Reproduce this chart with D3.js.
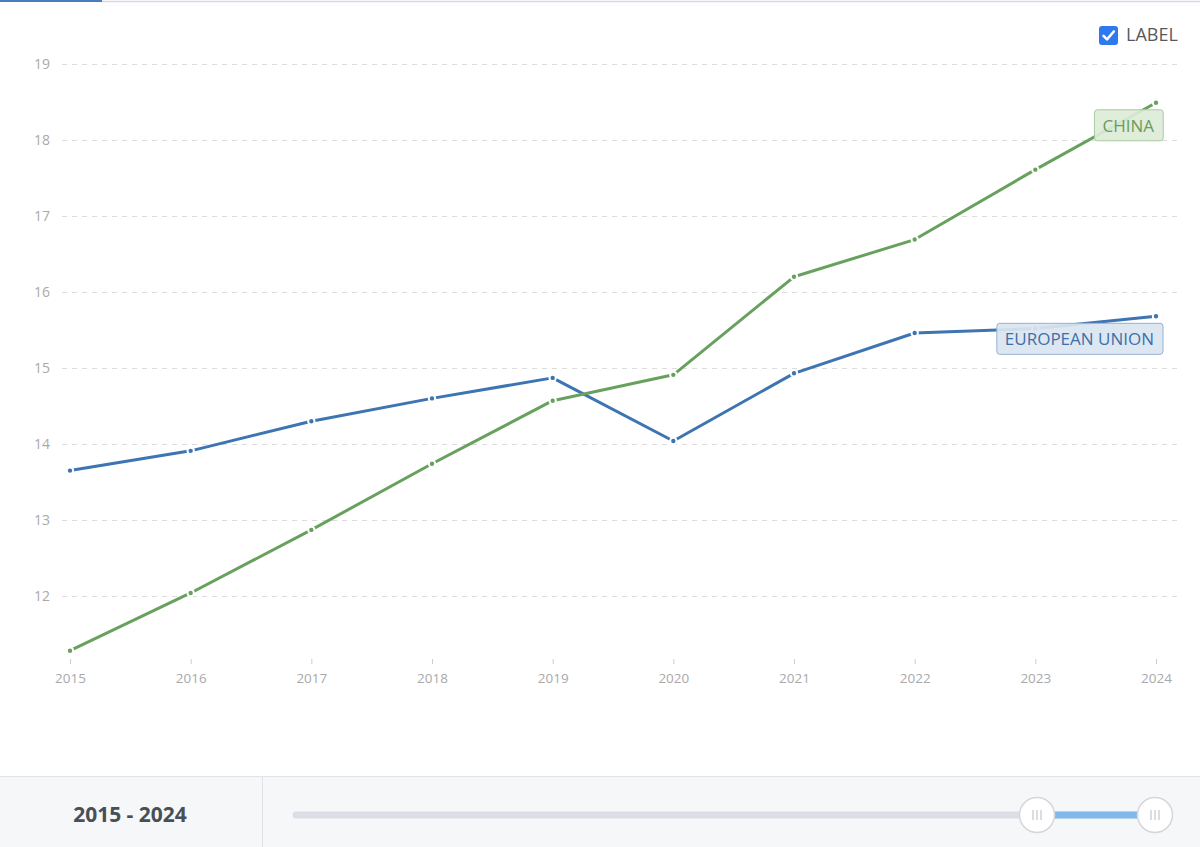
<!DOCTYPE html>
<html>
<head>
<meta charset="utf-8">
<script src="https://cdn.jsdelivr.net/npm/d3@7"></script>
<style>
  html, body { margin: 0; padding: 0; background: #fff; }
  body { width: 1200px; height: 847px; overflow: hidden; font-family: 'Open Sans', sans-serif; }
</style>
</head>
<body>
<svg id="chart" width="1200" height="847"></svg>
<script>
// values
const years = [2015, 2016, 2017, 2018, 2019, 2020, 2021, 2022, 2023, 2024]
const euValues = [13.65, 13.91, 14.30, 14.60, 14.87, 14.04, 14.93, 15.46, 15.52, 15.68]
const chinaValues = [11.28, 12.04, 12.87, 13.74, 14.57, 14.91, 16.20, 16.69, 17.61, 18.49]
const yTicks = [12, 13, 14, 15, 16, 17, 18, 19]
const seriesNames = ['EUROPEAN UNION', 'CHINA']
const rangeText = '2015 - 2024'

const width = 1200
const height = 847

const series = [
  { name: seriesNames[0], values: euValues, color: '#3d74b2', fill: '#dae5f1', stroke: '#93b2d4', text: '#3e70a8' },
  { name: seriesNames[1], values: chinaValues, color: '#68a15e', fill: '#dcebd7', stroke: '#a9cc9f', text: '#6a9c5f' }
]

const svg = d3.select('#chart')

// top tab strip
svg.append('line')
  .attr('x1', 100).attr('x2', width).attr('y1', 1.5).attr('y2', 1.5)
  .attr('stroke', '#d3dbe9').attr('stroke-width', 1.5)
svg.append('rect')
  .attr('x', 0).attr('y', 0).attr('width', 102).attr('height', 2)
  .attr('fill', '#4a7dbf')

const x = d3.scalePoint()
  .domain(years)
  .range([70, 1156])

const y = d3.scaleLinear()
  .domain([11, 19])
  .range([672, 64])

// gridlines + y labels
const yAxis = svg.append('g')
  .attr('transform', 'translate(62,0)')
  .call(d3.axisLeft(y).tickValues(yTicks).tickSize(-(1180 - 62)).tickPadding(12))
yAxis.select('.domain').remove()
yAxis.selectAll('.tick line')
  .attr('stroke', '#dcdcdc')
  .attr('stroke-dasharray', '5,5')
yAxis.selectAll('.tick text')
  .attr('fill', '#a9a9a9')
  .style('font-family', "'Open Sans', sans-serif")
  .style('font-size', '14px')

// x axis
const xAxis = svg.append('g')
  .attr('transform', 'translate(0,659)')
  .call(d3.axisBottom(x).tickSize(5).tickPadding(9))
xAxis.select('.domain').remove()
xAxis.selectAll('.tick line').attr('stroke', '#cccccc')
xAxis.selectAll('.tick text')
  .attr('fill', '#a9a9a9')
  .style('font-family', "'Open Sans', sans-serif")
  .style('font-size', '13.5px')

const line = d3.line()
  .x((d, i) => x(years[i]))
  .y(d => y(d))

series.forEach(s => {
  const g = svg.append('g')
  g.append('path')
    .attr('d', line(s.values))
    .attr('fill', 'none')
    .attr('stroke', s.color)
    .attr('stroke-width', 3)
    .attr('stroke-linejoin', 'round')
  g.selectAll('circle')
    .data(s.values)
    .join('circle')
    .attr('cx', (d, i) => x(years[i]))
    .attr('cy', d => y(d))
    .attr('r', 3.2)
    .attr('fill', s.color)
    .attr('stroke', '#fff')
    .attr('stroke-width', 2)
})

// end labels
series.forEach(s => {
  const last = s.values[s.values.length - 1]
  const lx = x(years[years.length - 1]) + 7
  const ly = y(last) + 7
  const g = svg.append('g')
  const t = g.append('text')
    .attr('x', lx - 9)
    .attr('y', ly + 16)
    .attr('dy', '0.35em')
    .attr('text-anchor', 'end')
    .attr('fill', s.text)
    .style('font-family', "'Open Sans', sans-serif")
    .style('font-size', '17px')
    .text(s.name)
  const bb = t.node().getBBox()
  g.insert('rect', 'text')
    .attr('x', bb.x - 8)
    .attr('y', ly)
    .attr('width', bb.width + 17)
    .attr('height', 31)
    .attr('rx', 3)
    .attr('fill', s.fill)
    .attr('fill-opacity', 0.92)
    .attr('stroke', s.stroke)
})

// LABEL checkbox
const cb = svg.append('g').attr('transform', 'translate(1099,26)')
cb.append('rect')
  .attr('width', 19).attr('height', 19).attr('rx', 3)
  .attr('fill', '#2f79f0')
cb.append('path')
  .attr('d', 'M4.5,9.8 L8,13.3 L14.8,5.5')
  .attr('fill', 'none')
  .attr('stroke', '#fff')
  .attr('stroke-width', 2.6)
  .attr('stroke-linecap', 'round')
  .attr('stroke-linejoin', 'round')
svg.append('text')
  .attr('x', 1126).attr('y', 35)
  .attr('dy', '0.35em')
  .attr('fill', '#555a60')
  .style('font-family', "'Open Sans', sans-serif")
  .style('font-size', '18px')
  .text('LABEL')

// bottom range panel
const panelY = 776
svg.append('rect')
  .attr('x', 0).attr('y', panelY).attr('width', width).attr('height', height - panelY)
  .attr('fill', '#f6f7f9')
svg.append('line')
  .attr('x1', 0).attr('x2', width).attr('y1', panelY + 0.5).attr('y2', panelY + 0.5)
  .attr('stroke', '#e1e3e7')
svg.append('line')
  .attr('x1', 262.5).attr('x2', 262.5).attr('y1', panelY).attr('y2', height)
  .attr('stroke', '#e1e3e7')
svg.append('text')
  .attr('x', 130).attr('y', 815)
  .attr('dy', '0.35em')
  .attr('text-anchor', 'middle')
  .attr('fill', '#4a4e55')
  .style('font-family', "'Open Sans', sans-serif")
  .style('font-size', '21px')
  .style('font-weight', 'bold')
  .style('white-space', 'pre')
  .text(rangeText)

const slider = d3.scalePoint().domain(years).range([1037, 1155])
const trackY = 815
svg.append('line')
  .attr('x1', 296).attr('x2', 1155).attr('y1', trackY).attr('y2', trackY)
  .attr('stroke', '#dcdde5').attr('stroke-width', 7).attr('stroke-linecap', 'round')
svg.append('line')
  .attr('x1', slider(years[0])).attr('x2', slider(years[years.length - 1]))
  .attr('y1', trackY).attr('y2', trackY)
  .attr('stroke', '#80b9ea').attr('stroke-width', 7)
const handles = svg.selectAll('g.handle')
  .data([years[0], years[years.length - 1]])
  .join('g')
  .attr('class', 'handle')
  .attr('transform', d => `translate(${slider(d)},${trackY})`)
handles.append('circle')
  .attr('r', 17.5)
  .attr('fill', '#fff')
  .attr('stroke', '#d6d7db')
  .attr('stroke-width', 1.5)
handles.selectAll('line')
  .data([-4, 0, 4])
  .join('line')
  .attr('x1', d => d).attr('x2', d => d)
  .attr('y1', -5).attr('y2', 5)
  .attr('stroke', '#c4c6cb')
  .attr('stroke-width', 1.2)
</script>
</body>
</html>
